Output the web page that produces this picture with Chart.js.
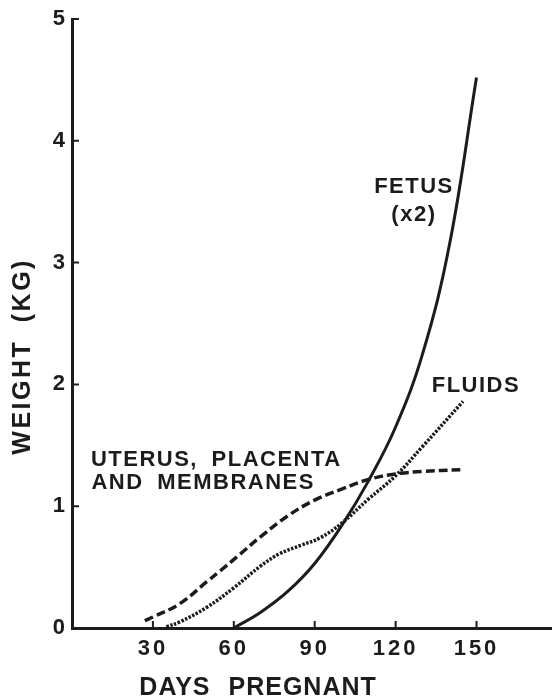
<!DOCTYPE html>
<html lang="en">

<head>
   <meta charset="UTF-8">
   <title>Weight gain in pregnancy</title>
   <style>
      body {
         margin: 0;
         background-color: #fff;
      }

      /* area of the chart, same size as the window */
      .quadro {
         width: 552px;
         height: 700px;
         position: relative;
      }
   </style>
</head>

<body>
   <div class="quadro">
      <canvas id="grafico"></canvas>
   </div>
</body>

<script src="https://cdn.jsdelivr.net/npm/chart.js"></script>
<script>
   // values: days pregnant -> weight (kg)
   var fetusDays = [60, 70, 80, 90, 100, 110, 120, 130, 140, 150];
   var fetusKg = [0, 0.13, 0.3, 0.53, 0.84, 1.21, 1.65, 2.25, 3.15, 4.52];

   var uterusDays = [27, 30, 40, 50, 55, 62, 70, 80, 90, 100, 110, 120, 130, 144];
   var uterusKg = [0.06, 0.09, 0.2, 0.38, 0.47, 0.6, 0.75, 0.92, 1.05, 1.14, 1.22, 1.265, 1.285, 1.3];

   var fluidsDays = [35, 40, 50, 60, 70, 77, 85, 92, 100, 110, 120, 130, 145];
   var fluidsKg = [0.01, 0.05, 0.17, 0.33, 0.51, 0.61, 0.68, 0.74, 0.86, 1.06, 1.25, 1.49, 1.86];

   var xTicks = [30, 60, 90, 120, 150];
   var yTicks = [0, 1, 2, 3, 4, 5];

   var tinta = "#1c1c1c";
   var fonte = "'Liberation Sans', Arial, Helvetica, sans-serif";

   function pares(xs, ys) {
      var out = [];
      for (var i = 0; i < xs.length; i++) {
         out.push({ x: xs[i], y: ys[i] });
      }
      return out;
   }

   // labels written on the curves (placed in data units)
   var notas = [
      { text: "FETUS", x: 126.8, y: 3.62, align: "center" },
      { text: "(x2)", x: 126.8, y: 3.39, align: "center" },
      { text: "FLUIDS", x: 133.4, y: 1.99, align: "left" },
      { text: "UTERUS, PLACENTA", x: 7.0, y: 1.38, align: "left" },
      { text: "AND MEMBRANES", x: 7.2, y: 1.19, align: "left" }
   ];

   var extras = {
      id: "extras",
      beforeDraw: function (chart) {
         chart.ctx.letterSpacing = "3px";
      },
      afterDraw: function (chart) {
         var ctx = chart.ctx;
         var area = chart.chartArea;
         var sx = chart.scales.x;
         var sy = chart.scales.y;

         ctx.save();
         // ticks point inwards
         ctx.strokeStyle = tinta;
         ctx.lineWidth = 2;
         ctx.beginPath();
         xTicks.forEach(function (v) {
            var px = sx.getPixelForValue(v);
            ctx.moveTo(px, area.bottom);
            ctx.lineTo(px, area.bottom - 7);
         });
         yTicks.forEach(function (v) {
            if (v === 0) return;
            var py = sy.getPixelForValue(v);
            ctx.moveTo(area.left, py);
            ctx.lineTo(area.left + 7, py);
         });
         ctx.stroke();

         ctx.fillStyle = tinta;
         ctx.textBaseline = "middle";
         ctx.font = "bold 22px " + fonte;
         ctx.letterSpacing = "1.5px";
         ctx.wordSpacing = "6px";
         notas.forEach(function (n) {
            ctx.textAlign = n.align;
            ctx.fillText(n.text, sx.getPixelForValue(n.x), sy.getPixelForValue(n.y));
         });

         // axis titles
         ctx.font = "bold 25px " + fonte;
         ctx.textAlign = "center";
         ctx.letterSpacing = "1px";
         ctx.wordSpacing = "10px";
         ctx.fillText("DAYS PREGNANT", sx.getPixelForValue(69), area.bottom + 60);

         ctx.letterSpacing = "2.5px";
         ctx.wordSpacing = "8px";
         ctx.translate(23, sy.getPixelForValue(2.23));
         ctx.rotate(-Math.PI / 2);
         ctx.fillText("WEIGHT (KG)", 0, 0);
         ctx.restore();

         ctx.letterSpacing = "0px";
         ctx.wordSpacing = "0px";
      }
   };

   var ctxGrafico = document.getElementById("grafico").getContext("2d");

   var grafico = new Chart(ctxGrafico, {
      type: "line",
      data: {
         datasets: [
            {
               label: "Fetus (x2)",
               data: pares(fetusDays, fetusKg),
               borderColor: tinta,
               borderWidth: 3,
               pointRadius: 0,
               fill: false,
               tension: 0.4
            },
            {
               label: "Uterus, placenta and membranes",
               data: pares(uterusDays, uterusKg),
               borderColor: tinta,
               borderWidth: 3.5,
               borderDash: [9, 4],
               pointRadius: 0,
               fill: false,
               tension: 0.4
            },
            {
               label: "Fluids",
               data: pares(fluidsDays, fluidsKg),
               borderColor: tinta,
               borderWidth: 3.5,
               borderDash: [2.5, 1.5],
               pointRadius: 0,
               fill: false,
               tension: 0.4
            }
         ]
      },
      options: {
         responsive: true,
         maintainAspectRatio: false,
         animation: false,
         layout: {
            padding: { top: 19, right: 0, bottom: 0, left: 0 }
         },
         plugins: {
            legend: { display: false },
            tooltip: { enabled: false }
         },
         scales: {
            x: {
               type: "linear",
               min: 0,
               max: 178,
               afterBuildTicks: function (s) {
                  s.ticks = xTicks.map(function (v) { return { value: v }; });
               },
               afterFit: function (s) {
                  s.height = 72;
               },
               grid: { drawOnChartArea: false, drawTicks: false },
               border: { display: true, color: tinta, width: 3 },
               ticks: {
                  padding: 8,
                  color: tinta,
                  maxRotation: 0,
                  font: { family: fonte, size: 22, weight: "bold" }
               }
            },
            y: {
               min: 0,
               max: 5,
               afterBuildTicks: function (s) {
                  s.ticks = yTicks.map(function (v) { return { value: v }; });
               },
               afterFit: function (s) {
                  s.width = 72;
               },
               grid: { drawOnChartArea: false, drawTicks: false },
               border: { display: true, color: tinta, width: 3 },
               ticks: {
                  padding: 4,
                  color: tinta,
                  font: { family: fonte, size: 22, weight: "bold" }
               }
            }
         }
      },
      plugins: [extras]
   });
</script>

</html>
